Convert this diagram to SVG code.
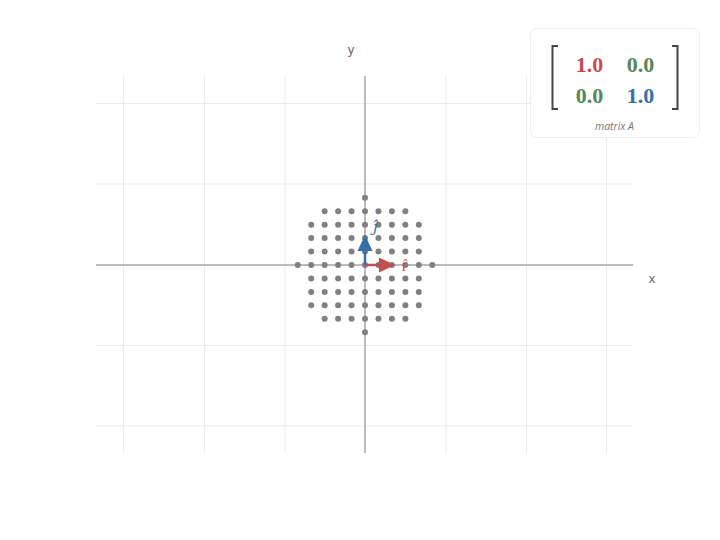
<svg xmlns="http://www.w3.org/2000/svg" width="720" height="540" viewBox="0 0 720 540">
<style>
.grid{stroke:#ebebeb;stroke-width:1;fill:none}
.axis{stroke:#bbbbbb;stroke-width:2;fill:none}
.albl{font-family:"Liberation Sans",Arial,sans-serif;font-size:13px;fill:#666}
.dot{fill:#808080}
.num{font-family:"Liberation Serif","DejaVu Serif",serif;font-size:22px;font-weight:bold;text-anchor:middle}
.red{fill:#c44e4e}
.green{fill:#55875a}
.blue{fill:#3a6ea8}
.br{stroke:#444;stroke-width:2;fill:none}
</style>
<rect width="720" height="540" fill="#ffffff"/>
<g id="grid">
<path class="grid" d="M123.5 76V453M204.5 76V453M285 76V453M446 76V453M526.5 76V453M606.5 76V453M96 103.5H633M96 184H633M96 345.5H633M96 426H633"/>
</g>
<g id="axes">
<path class="axis" d="M96 265H633M365 76V453"/>
<text class="albl" x="652" y="283" text-anchor="middle">x</text>
<text class="albl" x="351" y="54" text-anchor="middle">y</text>
</g>
<g id="points">
<circle class="dot" cx="365" cy="197.75" r="3"/>
<g transform="translate(0,211.2)"><circle class="dot" cx="324.65" r="3"/><circle class="dot" cx="338.1" r="3"/><circle class="dot" cx="351.55" r="3"/><circle class="dot" cx="365" r="3"/><circle class="dot" cx="378.45" r="3"/><circle class="dot" cx="391.9" r="3"/><circle class="dot" cx="405.35" r="3"/></g>
<g transform="translate(0,224.65)"><circle class="dot" cx="311.2" r="3"/><circle class="dot" cx="324.65" r="3"/><circle class="dot" cx="338.1" r="3"/><circle class="dot" cx="351.55" r="3"/><circle class="dot" cx="365" r="3"/><circle class="dot" cx="378.45" r="3"/><circle class="dot" cx="391.9" r="3"/><circle class="dot" cx="405.35" r="3"/><circle class="dot" cx="418.8" r="3"/></g>
<g transform="translate(0,238.1)"><circle class="dot" cx="311.2" r="3"/><circle class="dot" cx="324.65" r="3"/><circle class="dot" cx="338.1" r="3"/><circle class="dot" cx="351.55" r="3"/><circle class="dot" cx="365" r="3"/><circle class="dot" cx="378.45" r="3"/><circle class="dot" cx="391.9" r="3"/><circle class="dot" cx="405.35" r="3"/><circle class="dot" cx="418.8" r="3"/></g>
<g transform="translate(0,251.55)"><circle class="dot" cx="311.2" r="3"/><circle class="dot" cx="324.65" r="3"/><circle class="dot" cx="338.1" r="3"/><circle class="dot" cx="351.55" r="3"/><circle class="dot" cx="365" r="3"/><circle class="dot" cx="378.45" r="3"/><circle class="dot" cx="391.9" r="3"/><circle class="dot" cx="405.35" r="3"/><circle class="dot" cx="418.8" r="3"/></g>
<g transform="translate(0,265)"><circle class="dot" cx="297.75" r="3"/><circle class="dot" cx="311.2" r="3"/><circle class="dot" cx="324.65" r="3"/><circle class="dot" cx="338.1" r="3"/><circle class="dot" cx="351.55" r="3"/><circle class="dot" cx="365" r="3"/><circle class="dot" cx="378.45" r="3"/><circle class="dot" cx="391.9" r="3"/><circle class="dot" cx="405.35" r="3"/><circle class="dot" cx="418.8" r="3"/><circle class="dot" cx="432.25" r="3"/></g>
<g transform="translate(0,278.45)"><circle class="dot" cx="311.2" r="3"/><circle class="dot" cx="324.65" r="3"/><circle class="dot" cx="338.1" r="3"/><circle class="dot" cx="351.55" r="3"/><circle class="dot" cx="365" r="3"/><circle class="dot" cx="378.45" r="3"/><circle class="dot" cx="391.9" r="3"/><circle class="dot" cx="405.35" r="3"/><circle class="dot" cx="418.8" r="3"/></g>
<g transform="translate(0,291.9)"><circle class="dot" cx="311.2" r="3"/><circle class="dot" cx="324.65" r="3"/><circle class="dot" cx="338.1" r="3"/><circle class="dot" cx="351.55" r="3"/><circle class="dot" cx="365" r="3"/><circle class="dot" cx="378.45" r="3"/><circle class="dot" cx="391.9" r="3"/><circle class="dot" cx="405.35" r="3"/><circle class="dot" cx="418.8" r="3"/></g>
<g transform="translate(0,305.35)"><circle class="dot" cx="311.2" r="3"/><circle class="dot" cx="324.65" r="3"/><circle class="dot" cx="338.1" r="3"/><circle class="dot" cx="351.55" r="3"/><circle class="dot" cx="365" r="3"/><circle class="dot" cx="378.45" r="3"/><circle class="dot" cx="391.9" r="3"/><circle class="dot" cx="405.35" r="3"/><circle class="dot" cx="418.8" r="3"/></g>
<g transform="translate(0,318.8)"><circle class="dot" cx="324.65" r="3"/><circle class="dot" cx="338.1" r="3"/><circle class="dot" cx="351.55" r="3"/><circle class="dot" cx="365" r="3"/><circle class="dot" cx="378.45" r="3"/><circle class="dot" cx="391.9" r="3"/><circle class="dot" cx="405.35" r="3"/></g>
<circle class="dot" cx="365" cy="332.25" r="3"/>
</g>
<g id="vectors">
<g id="ihat">
<path d="M365 265H381" stroke="#c44e4e" stroke-width="2.5"/>
<polygon points="379,257.5 395,265 379,272.5" fill="#c44e4e"/>
<text x="404" y="270.5" text-anchor="middle" font-family="'DejaVu Serif','Liberation Serif',serif" font-style="italic" font-size="15" fill="#c44e4e">î</text>
</g>
<g id="jhat">
<path d="M365 265V249" stroke="#3a6ea8" stroke-width="2.5"/>
<polygon points="357.5,251 365,235 372.5,251" fill="#3a6ea8"/>
<text x="375" y="231.5" text-anchor="middle" font-family="'DejaVu Serif','Liberation Serif',serif" font-style="italic" font-size="15" fill="#3a6ea8">ĵ</text>
</g>
</g>
<g id="matrix">
<rect x="530.5" y="28.5" width="169" height="109" rx="6" fill="#ffffff" stroke="#eeeeee" stroke-width="1"/>
<path class="br" d="M558 46H552.5V109H558M672 46H677.5V109H672"/>
<text class="num red" x="589.5" y="72">1.0</text>
<text class="num green" x="640.5" y="72">0.0</text>
<text class="num green" x="589.5" y="103">0.0</text>
<text class="num blue" x="640.5" y="103">1.0</text>
<text x="614.5" y="130" text-anchor="middle" font-family="'Open Sans','Liberation Sans',Arial,sans-serif" font-style="italic" font-size="10.5" fill="#777">matrix A</text>
</g>
</svg>
